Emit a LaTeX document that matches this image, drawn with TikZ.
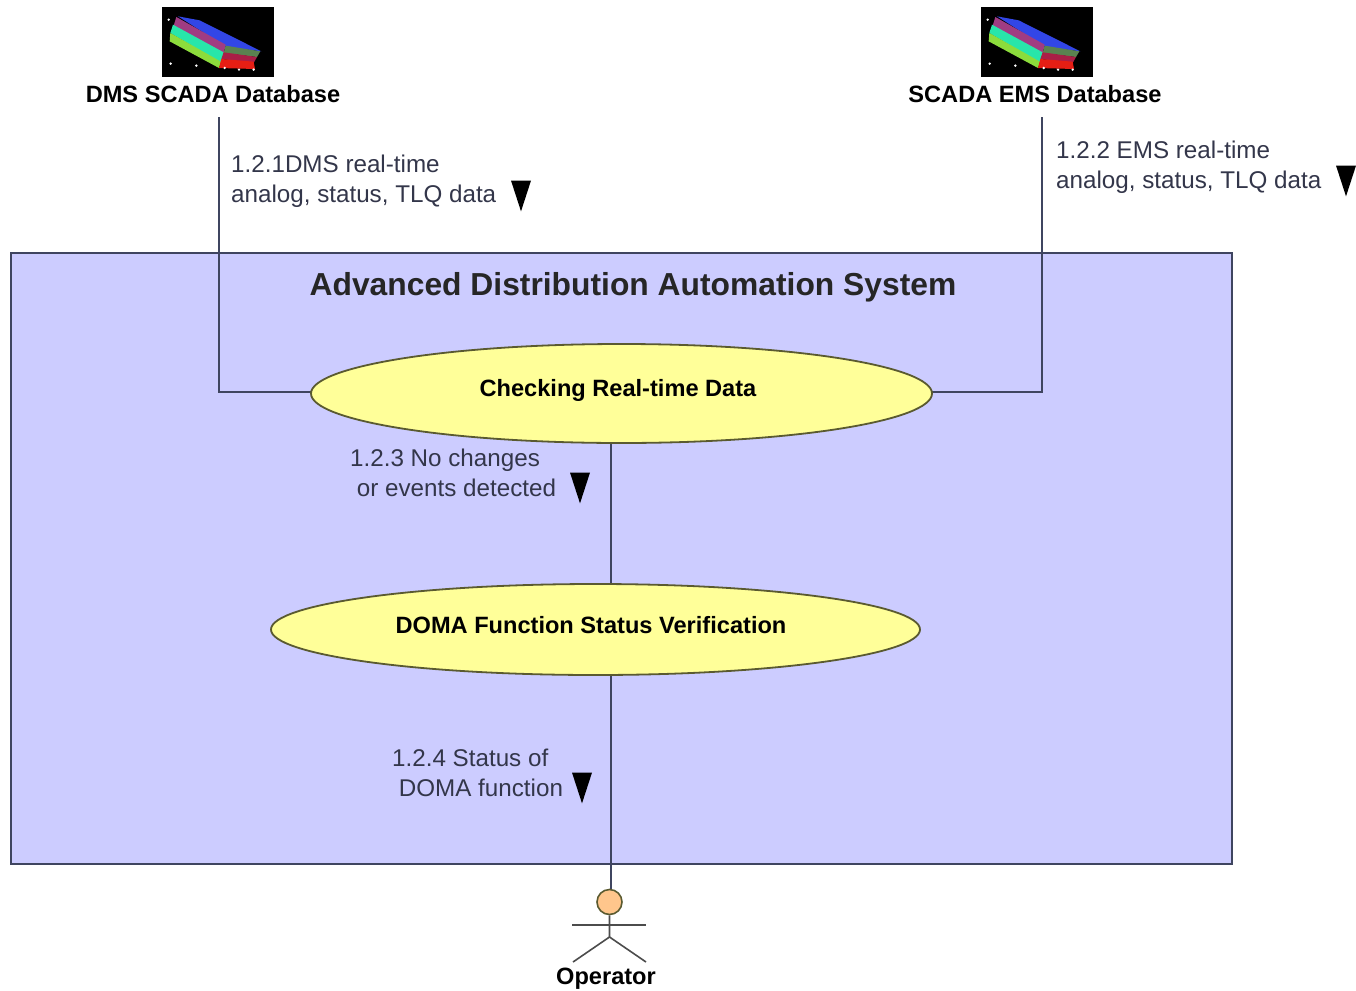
\documentclass[tikz,border=0pt]{standalone}
\usepackage{fontspec}
\setmainfont{Liberation Sans}
\usetikzlibrary{backgrounds,shapes.geometric}
\definecolor{boxfill}{HTML}{CCCCFF}
\definecolor{boxline}{HTML}{3F4560}
\definecolor{casefill}{HTML}{FFFF99}
\definecolor{caseline}{HTML}{5A5A30}
\definecolor{headfill}{HTML}{FFC68C}
\definecolor{inktext}{HTML}{33364A}
\definecolor{dbblue}{HTML}{3246E6}
\definecolor{dbpink}{HTML}{A03C82}
\definecolor{dbcyan}{HTML}{28E6AA}
\definecolor{dblime}{HTML}{8CDC3C}
\definecolor{dbolive}{HTML}{5A8250}
\definecolor{dbwine}{HTML}{AA1E46}
\definecolor{dbred}{HTML}{E61E14}
\tikzset{
    %Define style for boxes
    system/.style={
           rectangle,
           draw=boxline, line width=2pt,
           fill=boxfill,
           inner sep=0pt},
    usecase/.style={
           ellipse,
           draw=caseline, line width=1.8pt,
           fill=casefill,
           inner sep=0pt},
    casename/.style={
           font=\fontsize{23.6}{28}\selectfont\bfseries,
           inner sep=0pt},
    flowtext/.style={
           align=left,
           anchor=west,
           inner sep=0pt,
           text=inktext,
           font=\fontsize{24.2}{30}\selectfont},
    flowdir/.style={
           isosceles triangle,
           shape border rotate=-90,
           isosceles triangle apex angle=36,
           anchor=apex,
           fill=black,
           inner sep=0pt,
           minimum height=30pt,
           minimum width=20pt},
    % Define connector style
    link/.style={
           draw=boxline,
           line width=1.6pt},
    stick/.style={
           draw=black!70,
           line width=1.6pt},
    % Database picture
    dbicon/.pic={
      \begin{scope}[x=.3333pt,y=-.3333pt,shift={(-37,-22)}]
        \fill[black] (37,22) rectangle (372,232);
        \foreach \col/\shape in {
          {dbblue}/{(85,50) -- (150,62) -- (335,155) -- (230,142) -- cycle},
          {dbpink}/{(80,52) -- (228,135) -- (222,162) -- (72,78) -- cycle},
          {dbcyan}/{(70,75) -- (222,158) -- (215,190) -- (62,100) -- cycle},
          {dblime}/{(62,100) -- (214,186) -- (208,205) -- (60,125) -- cycle},
          {dbolive}/{(228,138) -- (332,155) -- (322,172) -- (222,160) -- cycle},
          {dbwine}/{(222,158) -- (322,172) -- (312,190) -- (215,178) -- cycle},
          {dbred}/{(215,178) -- (312,186) -- (316,208) -- (208,205) -- cycle}}
          {\fill[\col] \shape;}
        \foreach \dotx/\doty in {57/60,63/192,140/198,225/205,268/210,312/210}
          \fill[white] (\dotx,\doty) circle (4);
      \end{scope}}
}
\begin{document}
\begin{tikzpicture}[x=1pt,y=-1pt]
\useasboundingbox (0,0) rectangle (1356,990);
 %nodes
\node[usecase, minimum width=621pt, minimum height=99pt](check) at (621.5,393.5){};
\node[casename](checkname) at (618,390.5){Checking Real-time Data};
\node[usecase, minimum width=649pt, minimum height=91pt](doma) at (595.5,629.5){};
\node[casename](domaname) at (591,625){DOMA Function Status Verification};
\node[font=\fontsize{31.8}{38}\selectfont\bfseries, inner sep=0pt, text=black!85](title) at (633,287.5){Advanced Distribution Automation System};
\node[casename](dmsdb) at (213,94.5){DMS SCADA Database};
\node[casename](emsdb) at (1035,94.5){SCADA EMS Database};
\node[casename](operator) at (606,978.5){Operator};
\node[circle, draw=caseline, line width=1.6pt, fill=headfill, minimum size=25pt, inner sep=0pt](head) at (609.5,902){};
\pic at (162,7) {dbicon};
\pic at (981,7) {dbicon};
 %flow labels
\node[flowtext](dmsflow) at (231,181){1.2.1DMS real-time\\analog, status, TLQ data};
\node[flowtext](emsflow) at (1056,167.5){1.2.2 EMS real-time\\analog, status, TLQ data};
\node[flowtext](changes) at (350,473){1.2.3 No changes\\\ or events detected};
\node[flowtext](status) at (392,773){1.2.4 Status of\\\ DOMA function};
\node[flowdir](dmsdir) at (521,212){};
\node[flowdir](emsdir) at (1346,197){};
\node[flowdir](changesdir) at (580,504){};
\node[flowdir](statusdir) at (582,804){};
 %connectors
\coordinate(dmsbend) at (219,392);
\coordinate(emsbend) at (1042,392);
\coordinate(dmstop) at (219,117);
\coordinate(emstop) at (1042,117);
\coordinate(tap) at (611,600);
\coordinate(neck) at (609.5,937);
\coordinate(armleft) at (572,925);
\coordinate(armright) at (646,925);
\coordinate(legleft) at (573,962);
\coordinate(legright) at (646,962);
\begin{pgfonlayer}{background}
\fill[white] (0,0) rectangle (1356,990);
\node[system, minimum width=1221pt, minimum height=611pt, anchor=north west](system) at (9.5,251.5){};
\draw[link] (dmstop) -- (dmsbend) -- (dmsbend -| check.center);
\draw[link] (emstop) -- (emsbend) -- (emsbend -| check.center);
\draw[link] (tap |- check) -- (tap |- doma);
\draw[link] (tap |- doma) -- (tap |- head);
\end{pgfonlayer}
\draw[stick] (head.south) -- (neck) -- (legleft);
\draw[stick] (neck) -- (legright);
\draw[stick] (armleft) -- (armright);
\end{tikzpicture}
\end{document}
